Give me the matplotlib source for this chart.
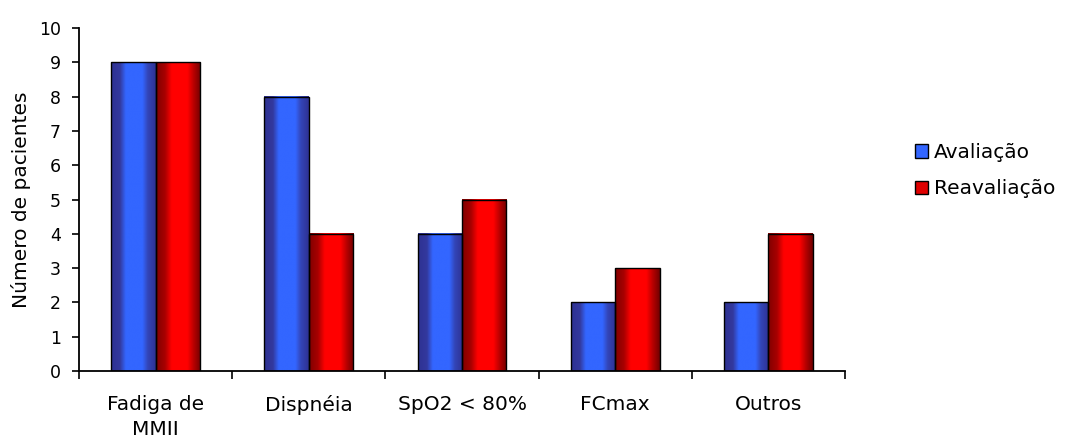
import numpy as np
import matplotlib
matplotlib.use("Agg")
import matplotlib.pyplot as plt
from matplotlib.colors import LinearSegmentedColormap
from matplotlib.patches import Patch
from matplotlib.ticker import FixedLocator

categories = ["Fadiga de\nMMII", "Dispnéia", "SpO2 < 80%", "FCmax", "Outros"]
avaliacao = [9, 8, 4, 2, 2]
reavaliacao = [9, 4, 5, 3, 4]
series_names = ["Avaliação", "Reavaliação"]
y_ticks = list(range(0, 11))

plt.rcParams["font.family"] = ["DejaVu Sans"]

fig = plt.figure(figsize=(10.77, 4.46), dpi=100)
ax = fig.add_axes([0.0734, 0.168, 0.7112, 0.769])

x = np.arange(len(categories))
width = 0.29

blue_cmap = LinearSegmentedColormap.from_list(
    "blue_bar",
    [(0.0, "#2e3192"), (0.2, "#33399e"), (0.33, "#3366ff"),
     (0.7, "#3366ff"), (0.82, "#3345b8"), (1.0, "#2e3192")])
red_cmap = LinearSegmentedColormap.from_list(
    "red_bar",
    [(0.0, "#800000"), (0.2, "#a80000"), (0.35, "#ff0000"),
     (0.7, "#ff0000"), (0.84, "#b80000"), (1.0, "#700000")])

gradient = np.linspace(0, 1, 256).reshape(1, -1)

def gradient_bars(values, offset, cmap):
    bars = ax.bar(x + offset, values, width, facecolor="none",
                  edgecolor="black", linewidth=1.0, zorder=3)
    for b in bars:
        x0, w, h = b.get_x(), b.get_width(), b.get_height()
        ax.imshow(gradient, cmap=cmap, aspect="auto",
                  extent=(x0, x0 + w, 0, h), zorder=2,
                  interpolation="bilinear")
    return bars

gradient_bars(avaliacao, -width / 2, blue_cmap)
gradient_bars(reavaliacao, width / 2, red_cmap)

ax.set_xlim(-0.5, len(categories) - 0.5)
ax.set_ylim(0, 10)

# y axis
ax.set_yticks(y_ticks)
ax.tick_params(axis="y", direction="out", length=5, width=1.2,
               labelsize=12.5, pad=8)
ax.set_ylabel("Número de pacientes", fontsize=14.5, labelpad=6)

# x axis: labels at category centres, tick marks at group boundaries
ax.set_xticks(x)
ax.set_xticklabels(categories, fontsize=14.5, linespacing=1.45)
ax.tick_params(axis="x", which="major", length=0, pad=17)
ax.xaxis.set_minor_locator(FixedLocator(np.arange(-0.5, len(categories), 1.0)))
ax.tick_params(axis="x", which="minor", direction="out", length=6, width=1.2)

for side in ("top", "right"):
    ax.spines[side].set_visible(False)
for side in ("left", "bottom"):
    ax.spines[side].set_linewidth(1.3)

handles = [Patch(facecolor="#3366ff", edgecolor="black", linewidth=1.0),
           Patch(facecolor="#e00000", edgecolor="black", linewidth=1.0)]
fig.legend(handles, series_names, loc="center left",
           bbox_to_anchor=(0.842, 0.617), frameon=False, fontsize=14.5,
           handlelength=0.65, handleheight=0.65, handletextpad=0.3,
           labelspacing=0.85, borderaxespad=0)

fig.savefig("out.png", dpi=100, facecolor="white")
